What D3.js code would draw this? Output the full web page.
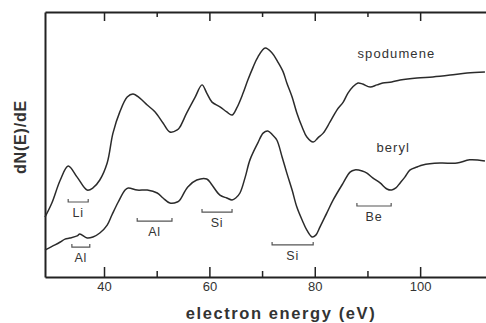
<!DOCTYPE html>
<html>
<head>
<meta charset="utf-8">
<script src="https://cdn.jsdelivr.net/npm/d3@7"></script>
<style>
  html, body { margin: 0; padding: 0; background: #fff; }
  svg { display: block; }
</style>
</head>
<body>
<svg id="chart" width="486" height="323"></svg>
<script>
// Auger spectra, dN(E)/dE vs electron energy (arb. units on y, 0-100)
const spodumeneE = [28.8, 30.1, 31.7, 33.2, 34.9, 36.8, 37.9, 39.2, 40.6, 41.7, 43.0, 44.4, 45.5, 46.8, 48.2, 49.7,
  51.2, 52.5, 53.9, 54.4, 55.7, 57.3, 58.6, 59.5, 60.5, 62.0, 63.3, 64.3, 65.2, 66.4, 67.3, 68.3, 69.2, 70.6,
  71.9, 73.0, 74.0, 74.7, 75.7, 76.6, 77.6, 78.5, 79.7, 80.6, 81.6, 82.9, 84.2, 85.4, 86.3, 87.2, 88.2, 89.1,
  90.5, 91.8, 92.9, 94.6, 96.2, 99.4, 102.4, 105.7, 108.9, 112.3];
const spodumeneI = [22.6, 27.9, 36.6, 41.9, 37.7, 32.8, 33.6, 36.6, 43.0, 54.3, 62.3, 67.9, 69.1, 67.5, 64.9, 62.3,
  58.1, 54.7, 55.5, 56.6, 61.9, 67.9, 72.5, 69.4, 66.0, 64.2, 62.3, 61.1, 63.8, 69.4, 74.3, 79.2, 83.0, 86.4,
  84.5, 81.1, 77.4, 73.2, 67.9, 61.9, 56.6, 52.8, 50.9, 52.5, 54.3, 58.5, 63.0, 66.0, 69.4, 71.7, 73.2, 72.8,
  71.7, 72.5, 73.2, 73.6, 74.3, 75.1, 75.5, 76.2, 77.0, 77.4];

const berylE = [28.8, 30.7, 31.7, 32.6, 33.5, 34.9, 35.4, 36.8, 37.9, 39.2, 40.6, 41.5, 42.7, 44.0, 44.6, 46.3,
  48.2, 50.1, 51.2, 52.5, 53.9, 54.4, 55.9, 57.6, 59.5, 60.5, 62.0, 63.3, 64.3, 65.0, 65.8, 66.8, 67.7, 69.2,
  70.2, 71.1, 72.0, 72.8, 73.8, 74.7, 75.7, 76.6, 77.6, 78.5, 79.5, 80.2, 81.0, 82.3, 83.5, 85.4, 86.7, 87.6,
  89.0, 89.9, 91.0, 92.4, 93.7, 94.6, 95.4, 96.2, 97.1, 98.1, 99.4, 100.5, 103.8, 107.0, 109.4, 112.3];
const berylI = [10.2, 12.1, 13.2, 14.3, 14.7, 15.5, 16.2, 14.7, 15.1, 16.6, 19.6, 23.4, 28.3, 32.8, 33.6, 32.8,
  32.8, 31.7, 29.8, 27.9, 28.3, 29.1, 34.0, 36.6, 37.0, 34.7, 30.9, 29.8, 29.1, 29.8, 31.7, 37.7, 44.2, 50.6,
  54.3, 55.1, 53.6, 51.7, 45.3, 39.2, 32.8, 26.4, 21.5, 17.7, 15.1, 15.8, 18.9, 24.2, 29.1, 35.5, 39.6, 40.4,
  40.0, 39.2, 37.4, 35.5, 33.2, 32.8, 33.6, 35.5, 37.7, 40.4, 41.5, 42.3, 43.0, 43.0, 44.2, 43.8];

// element transition ranges marked under the curves
const markNames = ['Li', 'Al', 'Al', 'Si', 'Si', 'Be'];
const markFrom  = [33.2, 33.9, 46.3, 58.6, 71.9, 88.0];
const markTo    = [37.0, 37.3, 52.9, 64.3, 79.7, 94.5];
const markLevel = [28.3, 11.3, 21.1, 24.5, 12.1, 26.8];

const majorTicks = [40, 60, 80, 100];
const minorTicks = [50, 70, 90];

const seriesNames = ['spodumene', 'beryl'];
const seriesLabelAt = [[95.5, 82.8], [94.9, 47.2]]; // [energy, intensity] of label centre baseline

const C = {
  ink: '#2b2b2b',
  axis: '#222',
  text: '#333',
  font: '"Liberation Sans", Arial, Helvetica, sans-serif',
};

const svg = d3.select('#chart');
const W = 486, H = 323;
const m = { top: 12, left: 45, bottom: 277 };

const x = d3.scaleLinear().domain([28.8, 112.5]).range([m.left, W]);
const y = d3.scaleLinear().domain([0, 100]).range([m.bottom, m.top]);

// axes
const gBot = svg.append('g').attr('transform', `translate(0,${m.bottom})`);
gBot.call(d3.axisBottom(x).tickValues(majorTicks).tickSize(-10).tickSizeOuter(0).tickPadding(5));
gBot.append('g').call(d3.axisBottom(x).tickValues(minorTicks).tickSize(-6).tickFormat(''))
  .select('.domain').remove();

const gTop = svg.append('g').attr('transform', `translate(0,${m.top})`);
gTop.call(d3.axisTop(x).tickValues(majorTicks).tickSize(-9).tickSizeOuter(0).tickFormat(''));
gTop.append('g').call(d3.axisTop(x).tickValues(minorTicks).tickSize(-5).tickFormat(''))
  .select('.domain').remove();

const gLeft = svg.append('g').attr('transform', `translate(${m.left},0)`);
gLeft.call(d3.axisLeft(y).tickValues([]).tickSizeOuter(0));

svg.selectAll('.domain').attr('stroke', C.axis).attr('stroke-width', 2);
svg.selectAll('.tick line').attr('stroke', C.axis).attr('stroke-width', 1.5);
gBot.selectAll('.tick text')
  .attr('font-family', C.font).attr('font-size', 13).attr('fill', C.text);

// curves
const line = d3.line().x((d) => x(d[0])).y((d) => y(d[1])).curve(d3.curveCatmullRom.alpha(0.5));
const series = [
  d3.zip(spodumeneE, spodumeneI),
  d3.zip(berylE, berylI),
];
svg.append('g').selectAll('path').data(series).enter().append('path')
  .attr('d', line)
  .attr('fill', 'none').attr('stroke', C.ink).attr('stroke-width', 1.5)
  .attr('stroke-linejoin', 'round');

svg.append('g').selectAll('text').data(seriesNames).enter().append('text')
  .attr('x', (d, i) => x(seriesLabelAt[i][0]))
  .attr('y', (d, i) => y(seriesLabelAt[i][1]))
  .attr('text-anchor', 'middle')
  .attr('font-family', C.font).attr('font-size', 13).attr('letter-spacing', '1.1px')
  .attr('fill', C.text)
  .text((d) => d);

// element brackets
const marks = markNames.map((name, i) => ({ name, a: markFrom[i], b: markTo[i], v: markLevel[i] }));
const gm = svg.append('g');
gm.selectAll('path').data(marks).enter().append('path')
  .attr('d', (d) => `M${x(d.a)},${y(d.v) - 3}V${y(d.v)}H${x(d.b)}V${y(d.v) - 3}`)
  .attr('fill', 'none').attr('stroke', '#555').attr('stroke-width', 1.2);
gm.selectAll('text').data(marks).enter().append('text')
  .attr('x', (d) => (x(d.a) + x(d.b)) / 2)
  .attr('y', (d) => y(d.v) + 15)
  .attr('text-anchor', 'middle')
  .attr('font-family', C.font).attr('font-size', 12.5).attr('letter-spacing', '0.8px')
  .attr('fill', C.text)
  .text((d) => d.name);

// axis titles
svg.append('text')
  .attr('x', 281).attr('y', 319)
  .attr('text-anchor', 'middle')
  .attr('font-family', C.font).attr('font-size', 16.5).attr('font-weight', 700)
  .attr('letter-spacing', '1.6px').attr('fill', C.text)
  .text('electron energy (eV)');

svg.append('text')
  .attr('transform', 'translate(26,137) rotate(-90)')
  .attr('text-anchor', 'middle')
  .attr('font-family', C.font).attr('font-size', 16).attr('font-weight', 700)
  .attr('letter-spacing', '0.8px').attr('fill', C.text)
  .text('dN(E)/dE');
</script>
</body>
</html>
